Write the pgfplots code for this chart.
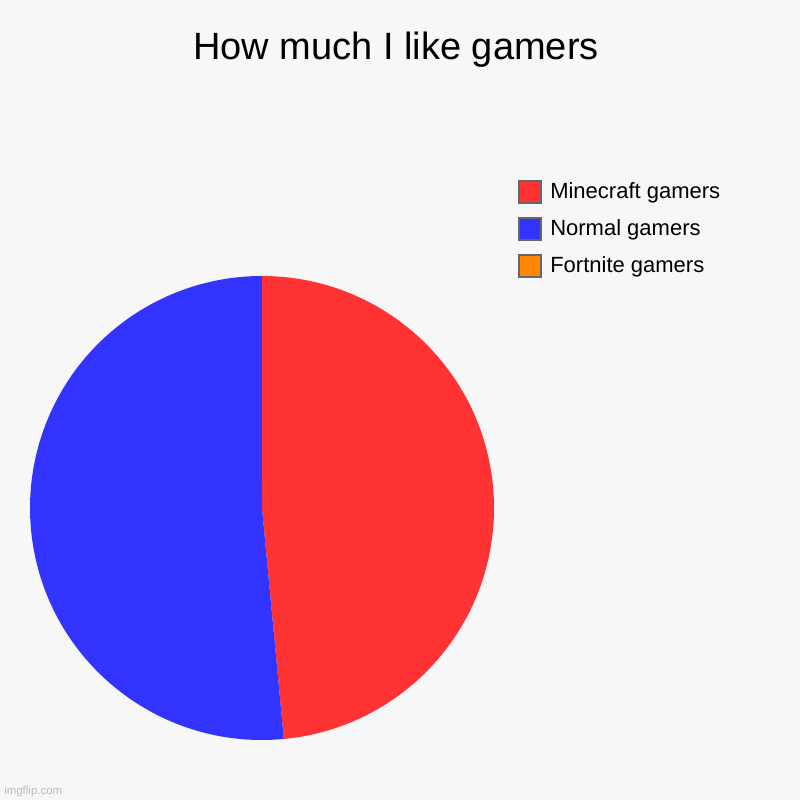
\documentclass[border=0pt]{standalone}
\usepackage{pgfplots}
\pgfplotsset{compat=1.18}
\usepackage{pgfplotstable}
\usepackage{fontspec}
\setmainfont{Liberation Sans}

\definecolor{bg}{HTML}{F7F7F7}
\definecolor{mcred}{HTML}{FF3333}
\definecolor{nblue}{HTML}{3333FF}
\definecolor{forange}{HTML}{FF8800}
\definecolor{boxgray}{HTML}{666666}
\definecolor{wm}{HTML}{BBBBBB}

% share of each slice, in percent
\pgfplotstableread{
label value
Minecraft 48.5
Normal 51.5
Fortnite 0
}\piedata

\begin{document}
\begin{tikzpicture}
\pgfplotstablegetelem{0}{value}\of\piedata \let\va\pgfplotsretval
\pgfplotstablegetelem{1}{value}\of\piedata \let\vb\pgfplotsretval
\pgfplotstablegetelem{2}{value}\of\piedata \let\vc\pgfplotsretval
\pgfmathsetmacro{\tot}{\va+\vb+\vc}
\pgfmathsetmacro{\aA}{90}
\pgfmathsetmacro{\aB}{\aA-360*(\va/\tot)}
\pgfmathsetmacro{\aC}{\aB-360*(\vb/\tot)}
\pgfmathsetmacro{\aD}{\aC-360*(\vc/\tot)}
\begin{axis}[
  x=0.75pt, y=0.75pt,
  xmin=0, xmax=800, ymin=0, ymax=800,
  hide axis, clip=false,
]
\fill[bg] (axis cs:0,0) rectangle (axis cs:800,800);
% slices, clockwise from the top
\fill[mcred] (axis cs:262,292) -- ++(\aA:174pt) arc[start angle=\aA, end angle=\aB, radius=174pt] -- cycle;
\fill[nblue] (axis cs:262,292) -- ++(\aB:174pt) arc[start angle=\aB, end angle=\aC, radius=174pt] -- cycle;
\ifdim\vc pt>0pt
\fill[forange] (axis cs:262,292) -- ++(\aC:174pt) arc[start angle=\aC, end angle=\aD, radius=174pt] -- cycle;
\fi
% title
\node[anchor=base, font=\fontsize{28.5}{34}\selectfont] at (axis cs:396,740) {How much I like gamers};
% legend
\filldraw[fill=mcred, draw=boxgray, line width=1.1pt] (axis cs:519,619) rectangle (axis cs:541,597);
\filldraw[fill=nblue, draw=boxgray, line width=1.1pt] (axis cs:519,582) rectangle (axis cs:541,560);
\filldraw[fill=forange, draw=boxgray, line width=1.1pt] (axis cs:519,545) rectangle (axis cs:541,523);
\begin{scope}[every node/.style={anchor=base west, inner sep=0pt, font=\fontsize{16.5}{19}\selectfont}]
\node at (axis cs:550,601) {Minecraft gamers};
\node at (axis cs:550,564) {Normal gamers};
\node at (axis cs:550,527) {Fortnite gamers};
\end{scope}
\node[anchor=base west, inner sep=0pt, text=wm, font=\fontsize{8.6}{10}\selectfont] at (axis cs:4,6) {imgflip.com};
\end{axis}
\end{tikzpicture}
\end{document}
